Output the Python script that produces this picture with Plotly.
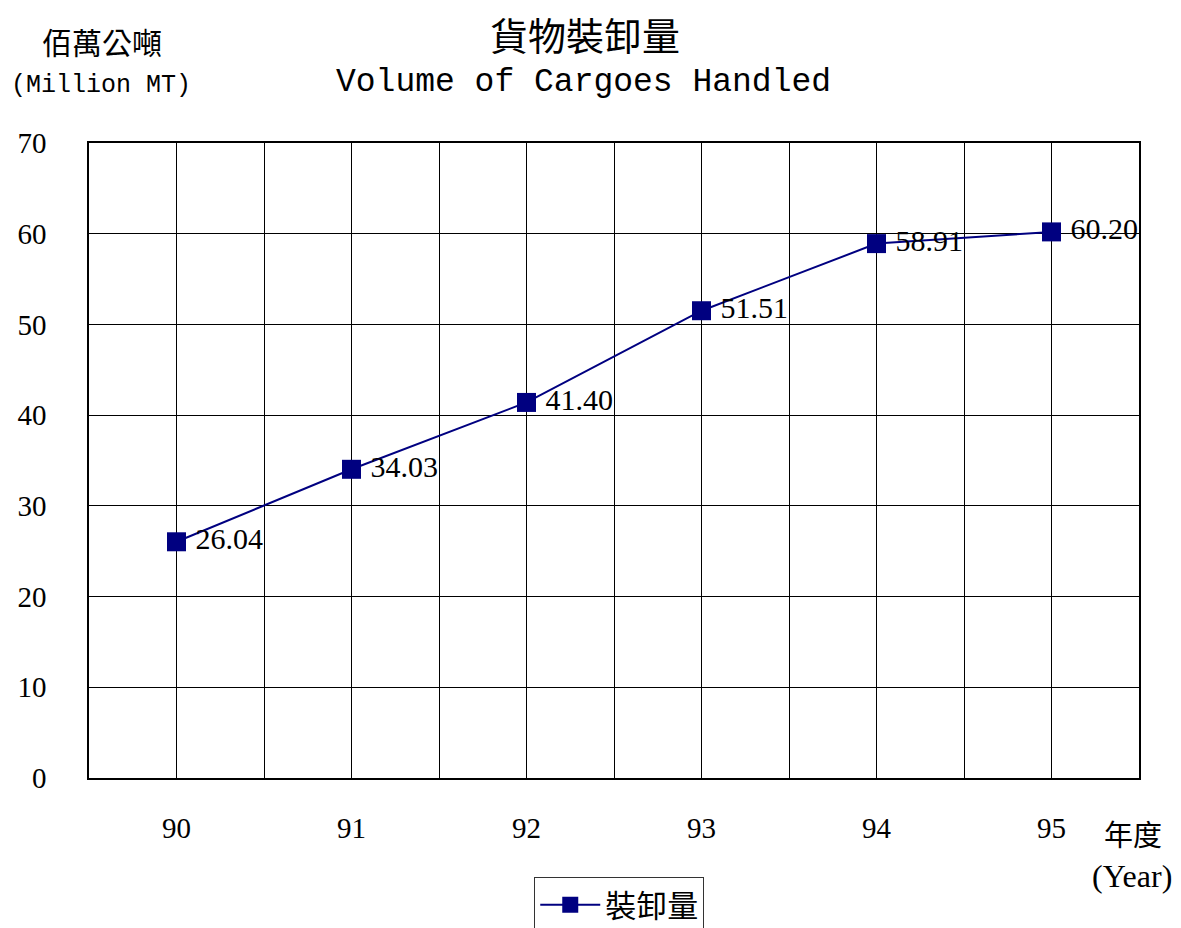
import plotly.graph_objects as go

years = ["90", "91", "92", "93", "94", "95"]
volumes = [26.04, 34.03, 41.40, 51.51, 58.91, 60.20]
value_labels = ["26.04", "34.03", "41.40", "51.51", "58.91", "60.20"]
series_name = "裝卸量"

MONO = "Liberation Mono, DejaVu Sans Mono, monospace"
CJK = "Noto Sans CJK TC, Noto Sans CJK SC, sans-serif"
SERIF = "Liberation Serif, DejaVu Serif, serif"

xpos = list(range(len(years)))
# tick positions: category centres and boundaries between categories
tickvals = []
ticktext = []
for i, y in enumerate(years):
    tickvals.append(i - 0.5)
    ticktext.append("")
    tickvals.append(i)
    ticktext.append(y)
tickvals.append(len(years) - 0.5)
ticktext.append("")

fig = go.Figure()
fig.add_trace(go.Scatter(
    x=xpos, y=volumes, name=series_name,
    mode="lines+markers+text",
    text=["\u2009" + v for v in value_labels], textposition="middle right",
    textfont=dict(family=SERIF, size=30, color="black"),
    line=dict(color="#000080", width=2),
    marker=dict(symbol="square", size=19, color="#000080"),
    cliponaxis=False,
))

fig.update_layout(
    width=1181, height=928,
    margin=dict(l=89, r=42, t=143, b=150),
    paper_bgcolor="white", plot_bgcolor="white",
    showlegend=True,
    legend=dict(
        orientation="h", x=0.505, xanchor="center",
        yref="container", y=1 - 877 / 928, yanchor="top",
        font=dict(family=CJK, size=31, color="black"),
        bordercolor="#333333", borderwidth=1, bgcolor="white",
        itemwidth=60,
    ),
    xaxis=dict(
        range=[-0.5, len(years) - 0.5],
        tickmode="array", tickvals=tickvals, ticktext=ticktext,
        showgrid=True, gridcolor="black", gridwidth=1,
        showline=True, linecolor="black", linewidth=1.5, mirror=True,
        ticks="", zeroline=False,
        tickfont=dict(family=SERIF, size=29, color="black"),
        ticklabelstandoff=23,
    ),
    yaxis=dict(
        range=[0, 70], dtick=10,
        showgrid=True, gridcolor="black", gridwidth=1,
        showline=True, linecolor="black", linewidth=1.5, mirror=True,
        ticks="", zeroline=False,
        tickfont=dict(family=SERIF, size=29, color="black"),
        ticklabelstandoff=35,
    ),
    annotations=[
        dict(text="貨物裝卸量", x=0.472, y=1.173, xref="paper", yref="paper",
             showarrow=False, font=dict(family=CJK, size=38, color="black"),
             xanchor="center", yanchor="middle"),
        dict(text="Volume of Cargoes Handled", x=0.471, y=1.096, xref="paper", yref="paper",
             showarrow=False, font=dict(family=MONO, size=33, color="black"),
             xanchor="center", yanchor="middle"),
        dict(text="佰萬公噸", x=0.0124, y=1.16, xref="paper", yref="paper",
             showarrow=False, font=dict(family=CJK, size=30, color="black"),
             xanchor="center", yanchor="middle"),
        dict(text="(Million MT)", x=0.0115, y=1.09, xref="paper", yref="paper",
             showarrow=False, font=dict(family=MONO, size=25, color="black"),
             xanchor="center", yanchor="middle"),
        dict(text="年度", x=0.994, y=-0.0866, xref="paper", yref="paper",
             showarrow=False, font=dict(family=CJK, size=29, color="black"),
             xanchor="center", yanchor="middle"),
        dict(text="(Year)", x=0.993, y=-0.154, xref="paper", yref="paper",
             showarrow=False, font=dict(family=SERIF, size=32, color="black"),
             xanchor="center", yanchor="middle"),
    ],
)

fig.write_html("out.html", post_script="document.body.style.margin='0';",
               config={"displayModeBar": False})
